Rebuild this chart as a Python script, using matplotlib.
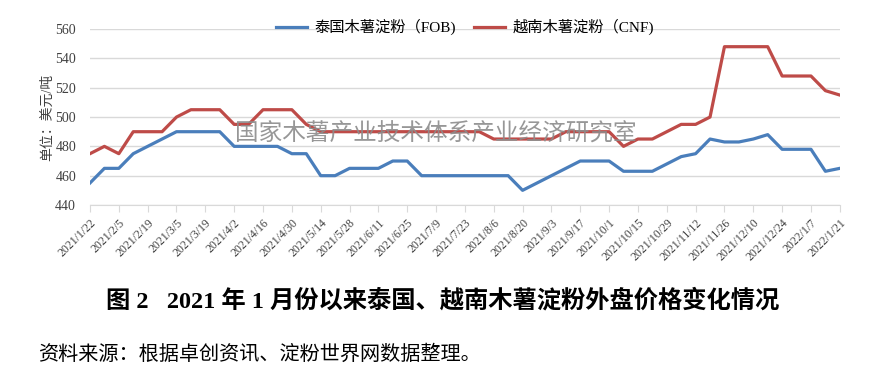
import numpy as np
import matplotlib
matplotlib.use("Agg")
import matplotlib.pyplot as plt

# weekly prices, USD/t, 2021/1/22 .. 2022/1/21
thai_fob = [455, 465, 465, 475, 480, 485, 490, 490, 490, 490,
            480, 480, 480, 480, 475, 475, 460, 460, 465, 465,
            465, 470, 470, 460, 460, 460, 460, 460, 460, 460,
            450, 455, 460, 465, 470, 470, 470, 463, 463, 463,
            468, 473, 475, 485, 483, 483, 485, 488, 478, 478,
            478, 463, 465]
vietnam_cnf = [475, 480, 475, 490, 490, 490, 500, 505, 505, 505,
               495, 495, 505, 505, 505, 495, 490, 490, 490, 490,
               490, 490, 490, 490, 490, 490, 490, 490, 485, 485,
               485, 485, 485, 490, 490, 490, 490, 480, 485, 485,
               490, 495, 495, 500, 548, 548, 548, 548, 528, 528,
               528, 518, 515]
tick_labels = ["2021/1/22", "2021/2/5", "2021/2/19", "2021/3/5", "2021/3/19",
               "2021/4/2", "2021/4/16", "2021/4/30", "2021/5/14", "2021/5/28",
               "2021/6/11", "2021/6/25", "2021/7/9", "2021/7/23", "2021/8/6",
               "2021/8/20", "2021/9/3", "2021/9/17", "2021/10/1", "2021/10/15",
               "2021/10/29", "2021/11/12", "2021/11/26", "2021/12/10",
               "2021/12/24", "2022/1/7", "2022/1/21"]

fonts = ["Liberation Serif", "Noto Sans CJK SC"]
plt.rcParams["font.family"] = fonts

x = np.arange(len(thai_fob))

fig = plt.figure(figsize=(8.77, 3.78), dpi=100)
ax = fig.add_axes([0.1026, 0.4577, 0.855, 0.4653])

ax.plot(x, thai_fob, color="#4a7ebb", lw=2.3, label="泰国木薯淀粉（FOB)", zorder=3)
ax.plot(x, vietnam_cnf, color="#be4b48", lw=2.3, label="越南木薯淀粉（CNF)", zorder=3)

ax.set_xlim(0, len(x) - 1)
ax.set_ylim(440, 560)
ax.set_yticks(range(440, 561, 20))
ax.grid(axis="y", color="#d9d9d9", lw=1)
ax.set_axisbelow(True)

for s in ["top", "right", "left"]:
    ax.spines[s].set_visible(False)
ax.spines["bottom"].set_color("#d9d9d9")
ax.tick_params(axis="y", length=0, labelsize=10, pad=10, colors="#404040")
ax.tick_params(axis="x", length=5, color="#d9d9d9", labelsize=8.5, colors="#404040")

ax.set_xticks(x[::2])
ax.set_xticklabels(tick_labels, rotation=45, ha="right", rotation_mode="anchor")

ax.set_ylabel("单位：美元/吨", fontsize=10, color="#404040")
ax.yaxis.set_label_coords(-0.048, 0.5)

ax.legend(loc="upper center", bbox_to_anchor=(0.5, 1.135), ncol=2, frameon=False,
          fontsize=11, handlelength=2.0, handletextpad=0.5, columnspacing=1.2)

# watermark
fig.text(0.497, 0.645, "国家木薯产业技术体系产业经济研究室", fontsize=17,
         color="#8c8c8c", alpha=0.9, ha="center", va="center", zorder=5)

fig.text(0.505, 0.205, "图 2   2021 年 1 月份以来泰国、越南木薯淀粉外盘价格变化情况",
         fontsize=17.5, fontweight="bold", ha="center", va="center")
fig.text(0.043, 0.06, "资料来源：根据卓创资讯、淀粉世界网数据整理。",
         fontsize=14.5, ha="left", va="center")

fig.savefig("out.png", dpi=100)
